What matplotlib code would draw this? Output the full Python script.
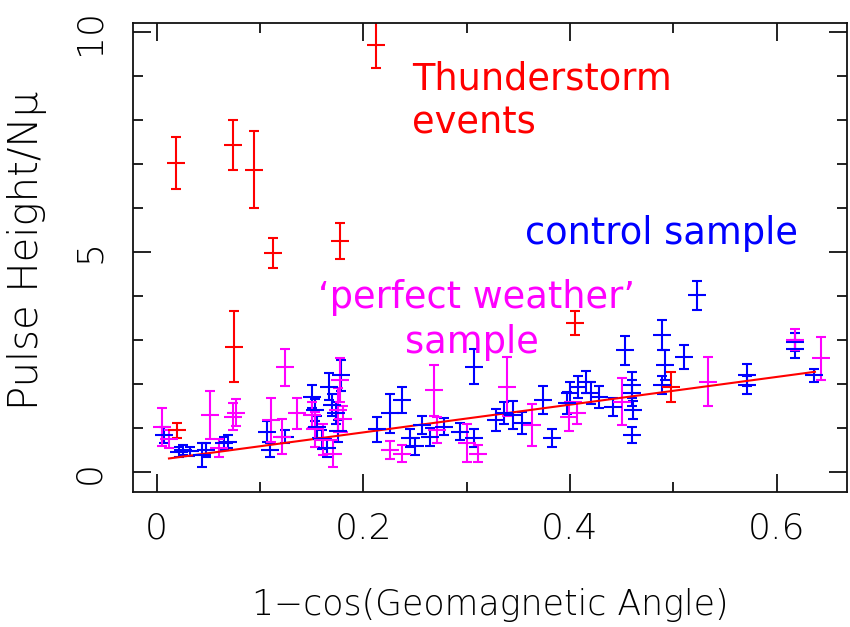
import numpy as np
import matplotlib
matplotlib.use('Agg')
from matplotlib import pyplot as plt
from matplotlib.ticker import MultipleLocator

#control sample (blue)
blue_x = [0.007, 0.022, 0.026, 0.032, 0.044, 0.048, 0.065, 0.069, 0.107, 0.110,
          0.124, 0.150, 0.153, 0.155, 0.160, 0.165, 0.167, 0.170, 0.174, 0.176,
          0.178, 0.213, 0.226, 0.237, 0.245, 0.250, 0.257, 0.265, 0.278, 0.294,
          0.307, 0.307, 0.328, 0.336, 0.345, 0.354, 0.374, 0.383, 0.397, 0.400,
          0.408, 0.415, 0.420, 0.428, 0.442, 0.4535, 0.460, 0.460, 0.461, 0.460,
          0.489, 0.492, 0.489, 0.510, 0.523, 0.571, 0.571, 0.618, 0.618, 0.636]
blue_y = [0.84, 0.45, 0.50, 0.47, 0.39, 0.50, 0.65, 0.69, 0.92, 0.50,
          0.80, 1.71, 1.41, 1.03, 0.74, 0.55, 1.94, 1.52, 1.34, 0.93,
          2.20, 0.97, 1.33, 1.64, 0.77, 0.58, 1.07, 0.79, 1.03, 0.92,
          0.77, 2.39, 1.18, 1.33, 1.30, 1.11, 1.64, 0.77, 1.56, 1.79,
          1.94, 2.05, 1.79, 1.71, 1.48, 2.77, 1.98, 1.80, 1.41, 0.84,
          3.11, 2.43, 1.98, 2.62, 4.02, 2.20, 1.98, 2.96, 2.80, 2.20]
blue_err = [0.19, 0.12, 0.12, 0.10, 0.28, 0.15, 0.15, 0.14, 0.24, 0.15,
            0.15, 0.26, 0.25, 0.25, 0.22, 0.20, 0.30, 0.25, 0.25, 0.25,
            0.35, 0.28, 0.45, 0.30, 0.20, 0.20, 0.20, 0.20, 0.20, 0.20,
            0.20, 0.40, 0.25, 0.25, 0.32, 0.25, 0.32, 0.20, 0.25, 0.25,
            0.25, 0.25, 0.25, 0.25, 0.20, 0.33, 0.30, 0.30, 0.20, 0.18,
            0.34, 0.35, 0.20, 0.27, 0.33, 0.25, 0.20, 0.20, 0.20, 0.15]

#'perfect weather' sample (magenta)
mag_x = [0.005, 0.012, 0.052, 0.060, 0.074, 0.077, 0.111, 0.121, 0.124, 0.136,
         0.150, 0.153, 0.161, 0.171, 0.176, 0.177, 0.180, 0.226, 0.237, 0.268,
         0.271, 0.300, 0.311, 0.339, 0.363, 0.399, 0.407, 0.450, 0.534, 0.618,
         0.643]
mag_y = [1.03, 0.75, 1.29, 0.55, 1.26, 1.35, 1.18, 0.80, 2.38, 1.33,
         1.30, 0.97, 0.73, 0.42, 1.41, 2.10, 1.20, 0.50, 0.42, 1.86,
         0.95, 0.65, 0.42, 1.94, 1.07, 1.26, 1.33, 1.60, 2.05, 3.01,
         2.58]
mag_err = [0.43, 0.20, 0.55, 0.20, 0.30, 0.30, 0.50, 0.40, 0.42, 0.36,
           0.30, 0.40, 0.35, 0.30, 0.50, 0.50, 0.30, 0.20, 0.20, 0.58,
           0.30, 0.43, 0.20, 0.67, 0.47, 0.32, 0.25, 0.53, 0.56, 0.24,
           0.49]

#thunderstorm events (red)
red_x = [0.019, 0.074, 0.094, 0.2125, 0.113, 0.177, 0.075, 0.020, 0.405, 0.498]
red_y = [7.01, 7.42, 6.87, 9.71, 4.98, 5.25, 2.85, 0.95, 3.39, 1.94]
red_err = [0.59, 0.57, 0.87, 0.54, 0.34, 0.41, 0.80, 0.17, 0.27, 0.34]

#fit line
fit_intercept = 0.27
fit_slope = 3.15
fit_range = [0.012, 0.637]

fig = plt.figure(figsize=(8.5, 6.27), dpi=100)
ax = fig.add_axes([133/850, 1 - 492/627, 714/850, 469/627])

lw = 1.5
for xs, ys, es, c in [(blue_x, blue_y, blue_err, '#0000ff'),
                      (mag_x, mag_y, mag_err, '#ff00ff'),
                      (red_x, red_y, red_err, '#ff0000')]:
    ax.errorbar(xs, ys, yerr=es, fmt='_', color=c, ms=12.5, mew=lw,
                elinewidth=lw, capsize=3.6, capthick=lw)

fx = np.array(fit_range)
ax.plot(fx, fit_intercept + fit_slope * fx, color='#ff0000', lw=lw)

ax.set_xlim(-0.0228, 0.668)
ax.set_ylim(-0.454, 10.2)

ax.xaxis.set_major_locator(MultipleLocator(0.2))
ax.xaxis.set_minor_locator(MultipleLocator(0.1))
ax.yaxis.set_major_locator(MultipleLocator(5))
ax.yaxis.set_minor_locator(MultipleLocator(1))
ax.set_xticks([0, 0.2, 0.4, 0.6])
ax.set_xticklabels(['0', '0.2', '0.4', '0.6'], fontweight='light')
ax.set_yticks([0, 5, 10])
ax.set_yticklabels(['0', '5', '10'], rotation=90, va='center', fontweight='light')

ax.tick_params(which='both', direction='in', top=True, right=True,
               width=1.3, color='#111111')
ax.tick_params(which='major', length=13)
ax.tick_params(which='minor', length=7)
ax.tick_params(axis='x', labelsize=26, pad=14, labelcolor='black')
ax.tick_params(axis='y', labelsize=26, pad=19, labelcolor='black')
for s in ax.spines.values():
    s.set_linewidth(1.3)
    s.set_color('#111111')

ax.set_xlabel('1\u2212cos(Geomagnetic Angle)', fontsize=25, color='black',
              fontweight='light')
ax.xaxis.set_label_coords(0.5, -0.205)
ax.set_ylabel('Pulse Height/N\u03bc', fontsize=29, color='black',
              fontweight='light', family=['DejaVu Sans'])
ax.yaxis.set_label_coords(-0.12, 0.515)

#annotations
ax.text(0.247, 8.68, 'Thunderstorm', color='#ff0000', fontsize=26.5, va='baseline')
ax.text(0.247, 7.68, 'events', color='#ff0000', fontsize=26.5, va='baseline')
ax.text(0.3567, 5.17, 'control sample', color='#0000ff', fontsize=26.5, va='baseline')
ax.text(0.31, 3.72, '\u2018perfect weather\u2019', color='#ff00ff', fontsize=26.5,
        va='baseline', ha='center')
ax.text(0.305, 2.70, 'sample', color='#ff00ff', fontsize=26.5, va='baseline', ha='center')

fig.savefig('out.png', dpi=100)
